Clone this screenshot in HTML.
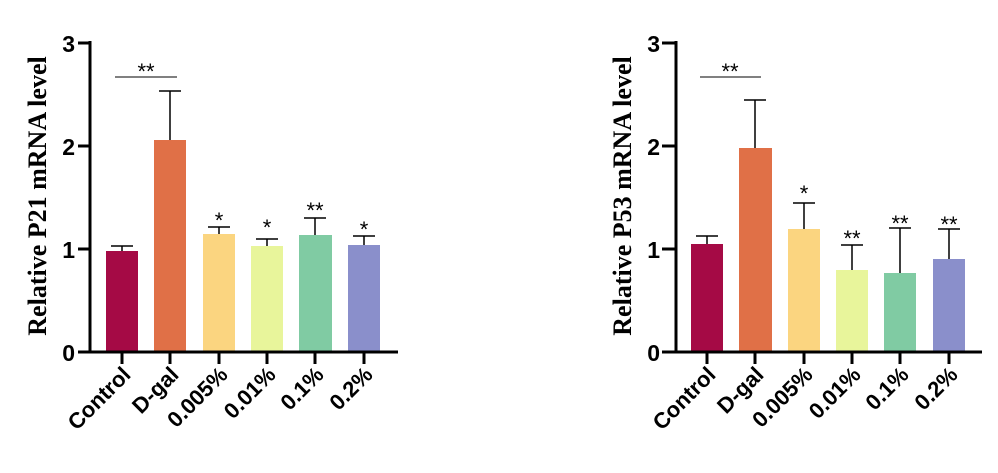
<!DOCTYPE html>
<html><head><style>body{margin:0;background:#fff}svg{display:block}</style></head><body>
<svg width="998" height="473" viewBox="0 0 998 473" xmlns="http://www.w3.org/2000/svg" font-family="Liberation Sans, Arial, sans-serif">
<g stroke="#000" stroke-width="1.5" fill="none">
<path d="M122 251V246M111 246H133M170 140V91M159 91H181M219 234V227M208 227H230M267 246V239M256 239H278M315 235V218M304 218H326M364 245V236M353 236H375"/>
<path d="M115 77H177" stroke-width="1"/>
<path d="M707 244V236M696 236H718M755 148V100M744 100H766M804 229V203M793 203H815M852 270V245M841 245H863M900 273V228M889 228H911M949 259V229M938 229H960"/>
<path d="M700 77H761" stroke-width="1"/>
</g>
<rect x="106" y="251" width="32" height="101" fill="#a50a45"/>
<rect x="154" y="140" width="32" height="212" fill="#e07047"/>
<rect x="203" y="234" width="32" height="118" fill="#fbd580"/>
<rect x="251" y="246" width="32" height="106" fill="#e8f59b"/>
<rect x="299" y="235" width="33" height="117" fill="#80cba3"/>
<rect x="348" y="245" width="32" height="107" fill="#8a8fcb"/>
<rect x="691" y="244" width="32" height="108" fill="#a50a45"/>
<rect x="739" y="148" width="33" height="204" fill="#e07047"/>
<rect x="788" y="229" width="32" height="123" fill="#fbd580"/>
<rect x="836" y="270" width="32" height="82" fill="#e8f59b"/>
<rect x="884" y="273" width="32" height="79" fill="#80cba3"/>
<rect x="933" y="259" width="32" height="93" fill="#8a8fcb"/>
<g stroke="#000" stroke-width="3" fill="none">
<path d="M90 41V353M78 352H398M78 43H90M78 146H90M78 249H90M122 352V364M170 352V364M219 352V364M267 352V364M315 352V364M364 352V364"/>
<path d="M676 41V353M662 352H982M662 43H676M662 146H676M662 249H676M707 352V364M755 352V364M804 352V364M852 352V364M900 352V364M949 352V364"/>
</g>
<g font-weight="bold" font-size="23" text-anchor="end">
<text x="75" y="52">3</text><text x="75" y="155">2</text><text x="75" y="258">1</text><text x="75" y="361">0</text>
<text x="660" y="52">3</text><text x="660" y="155">2</text><text x="660" y="258">1</text><text x="660" y="361">0</text>
</g>
<g font-weight="bold" font-size="22" text-anchor="end">
<text transform="translate(132,376) rotate(-45)">Control</text>
<text transform="translate(180,376) rotate(-45)">D-gal</text>
<text transform="translate(229,376) rotate(-45)">0.005%</text>
<text transform="translate(277,376) rotate(-45)">0.01%</text>
<text transform="translate(325,376) rotate(-45)">0.1%</text>
<text transform="translate(374,376) rotate(-45)">0.2%</text>
<text transform="translate(717,376) rotate(-45)">Control</text>
<text transform="translate(765,376) rotate(-45)">D-gal</text>
<text transform="translate(814,376) rotate(-45)">0.005%</text>
<text transform="translate(862,376) rotate(-45)">0.01%</text>
<text transform="translate(910,376) rotate(-45)">0.1%</text>
<text transform="translate(959,376) rotate(-45)">0.2%</text>
</g>
<g font-family="Liberation Serif, Times New Roman, serif" font-weight="bold" font-size="26" text-anchor="middle">
<text transform="translate(46,196) rotate(-90)">Relative P21 mRNA level</text>
<text transform="translate(631,196) rotate(-90)">Relative P53 mRNA level</text>
</g>
<g font-size="22" text-anchor="middle">
<text x="146" y="79">**</text>
<text x="219" y="228">*</text><text x="267" y="235">*</text><text x="315" y="218">**</text><text x="364" y="237">*</text>
<text x="730" y="79">**</text>
<text x="804" y="201">*</text><text x="852" y="246">**</text><text x="900" y="231">**</text><text x="949" y="232">**</text>
</g>
</svg>
</body></html>
